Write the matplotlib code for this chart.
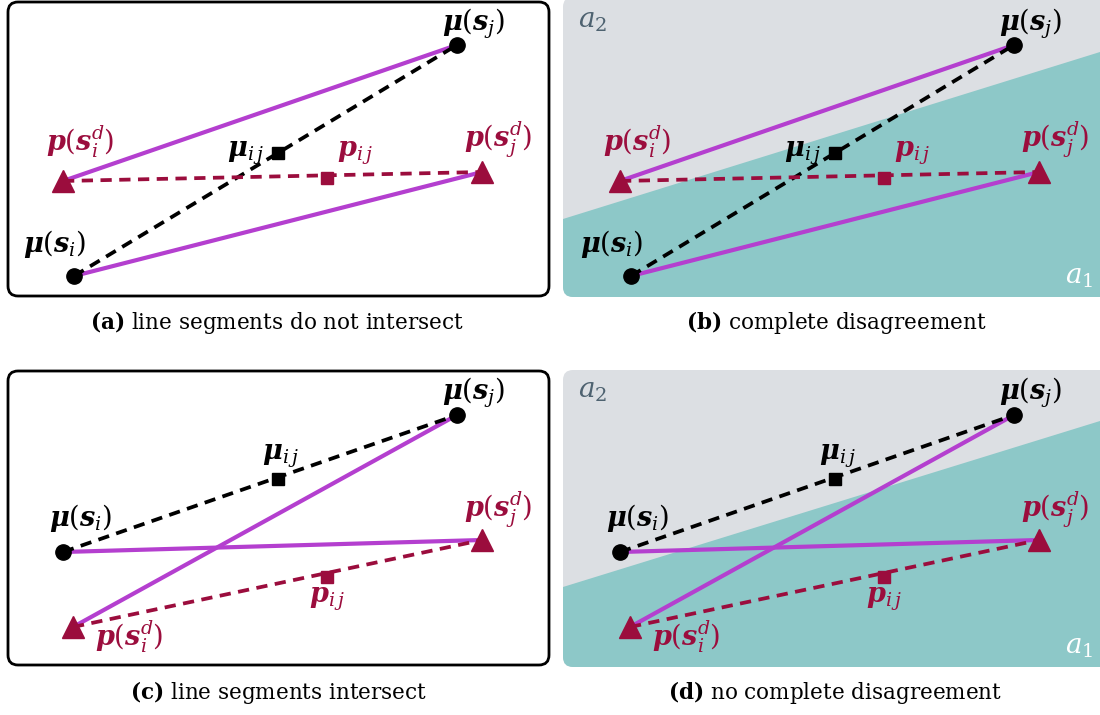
import matplotlib.pyplot as plt
from matplotlib.patches import FancyBboxPatch, Polygon

plt.rcParams['font.family'] = 'DejaVu Serif'
plt.rcParams['mathtext.fontset'] = 'dejavuserif'

PURPLE = '#b43fcf'
CRIMSON = '#9b0d3d'
GREY = '#dcdfe3'
TEAL = '#8dc8c8'

# point positions in figure pixels for the left-hand panels;
# the right-hand panels repeat them shifted by DX
DX = 557

top_mu_i = (74, 276)
top_mu_j = (457, 45)
top_p_i = (63, 181)
top_p_j = (482, 172)
top_mu_ij = (278, 153)
top_p_ij = (327, 178)

bot_mu_i = (63, 552)
bot_mu_j = (457, 415)
bot_p_i = (73, 627)
bot_p_j = (482, 540)
bot_mu_ij = (278, 479)
bot_p_ij = (327, 577)

label_text = {
    'mu_i': r'$\mathbfit{\mu}(\mathbfit{s}_i)$',
    'mu_j': r'$\mathbfit{\mu}(\mathbfit{s}_j)$',
    'p_i': r'$\mathbfit{p}(\mathbfit{s}_i^d)$',
    'p_j': r'$\mathbfit{p}(\mathbfit{s}_j^d)$',
    'mu_ij': r'$\mathbfit{\mu}_{i\,j}$',
    'p_ij': r'$\mathbfit{p}_{i\,j}$',
}

captions = [
    (r'$\mathbf{(a)}$ line segments do not intersect', 277, 323),
    (r'$\mathbf{(b)}$ complete disagreement', 836, 323),
    (r'$\mathbf{(c)}$ line segments intersect', 278, 692),
    (r'$\mathbf{(d)}$ no complete disagreement', 835, 692),
]

top_labels = {'mu_j': (474, 24), 'p_i': (80, 142), 'mu_ij': (245, 153),
              'p_ij': (355, 153), 'p_j': (498, 140), 'mu_i': (55, 244)}
bot_labels = {'mu_j': (474, 393), 'mu_ij': (280, 456), 'mu_i': (81, 518),
              'p_j': (498, 510), 'p_ij': (327, 599), 'p_i': (129, 637)}


def seg(ax, a, b, dx, **kw):
    ax.plot([a[0] + dx, b[0] + dx], [a[1], b[1]], **kw)


def draw_points(ax, mu_i, mu_j, p_i, p_j, mu_ij, p_ij, labels, dx):
    seg(ax, p_i, mu_j, dx, color=PURPLE, lw=3, solid_capstyle='butt', zorder=3)
    seg(ax, mu_i, p_j, dx, color=PURPLE, lw=3, solid_capstyle='butt', zorder=3)
    seg(ax, mu_i, mu_j, dx, color='black', lw=2.7, ls=(0, (3, 2)), zorder=4)
    seg(ax, p_i, p_j, dx, color=CRIMSON, lw=2.7, ls=(0, (3, 2)), zorder=4)

    for pt in (mu_i, mu_j):
        ax.plot(pt[0] + dx, pt[1], 'o', color='black', ms=11, zorder=5)
    for pt in (p_i, p_j):
        ax.plot(pt[0] + dx, pt[1], '^', color=CRIMSON, ms=16, zorder=5)
    ax.plot(mu_ij[0] + dx, mu_ij[1], 's', color='black', ms=9, zorder=5)
    ax.plot(p_ij[0] + dx, p_ij[1], 's', color=CRIMSON, ms=9, zorder=5)

    for key, (x, y) in labels.items():
        col = CRIMSON if key.startswith('p') else 'black'
        ax.text(x + dx, y, label_text[key], color=col, fontsize=19.5,
                ha='center', va='center', zorder=6)


def draw_regions(ax, y0, y1, yl, yr):
    bg = FancyBboxPatch((563, y0), 560, y1 - y0,
                        boxstyle='round,pad=0,rounding_size=10',
                        facecolor=GREY, edgecolor='none', zorder=1)
    ax.add_patch(bg)
    teal = Polygon([(563, yl), (1100, yr), (1130, yr - 9), (1130, y1), (563, y1)],
                   closed=True, facecolor=TEAL, edgecolor='none', zorder=2)
    ax.add_patch(teal)
    teal.set_clip_path(bg)
    ax.text(578, max(y0, 0) + 21, r'$a_2$', color='#4e6270', fontsize=20,
            ha='left', va='center', zorder=6)
    ax.text(1093, y1 - 21, r'$a_1$', color='white', fontsize=20,
            ha='right', va='center', zorder=6)


fig = plt.figure(figsize=(11, 7.15), dpi=100)
ax = fig.add_axes([0, 0, 1, 1])
ax.set_xlim(0, 1100)
ax.set_ylim(715, 0)
ax.axis('off')

# framed panels on the left
for y0, y1 in ((2, 296), (371, 665)):
    ax.add_patch(FancyBboxPatch((8, y0), 541, y1 - y0,
                                boxstyle='round,pad=0,rounding_size=10',
                                facecolor='white', edgecolor='black',
                                lw=2, zorder=1))

# shaded action regions on the right
draw_regions(ax, -3, 297, 219, 52)
draw_regions(ax, 370, 667, 587, 421)

draw_points(ax, top_mu_i, top_mu_j, top_p_i, top_p_j, top_mu_ij, top_p_ij,
            top_labels, 0)
draw_points(ax, top_mu_i, top_mu_j, top_p_i, top_p_j, top_mu_ij, top_p_ij,
            top_labels, DX)
draw_points(ax, bot_mu_i, bot_mu_j, bot_p_i, bot_p_j, bot_mu_ij, bot_p_ij,
            bot_labels, 0)
draw_points(ax, bot_mu_i, bot_mu_j, bot_p_i, bot_p_j, bot_mu_ij, bot_p_ij,
            bot_labels, DX)

for txt, x, y in captions:
    ax.text(x, y, txt, fontsize=15.5, ha='center', va='center')

fig.savefig('out.png', dpi=100)
